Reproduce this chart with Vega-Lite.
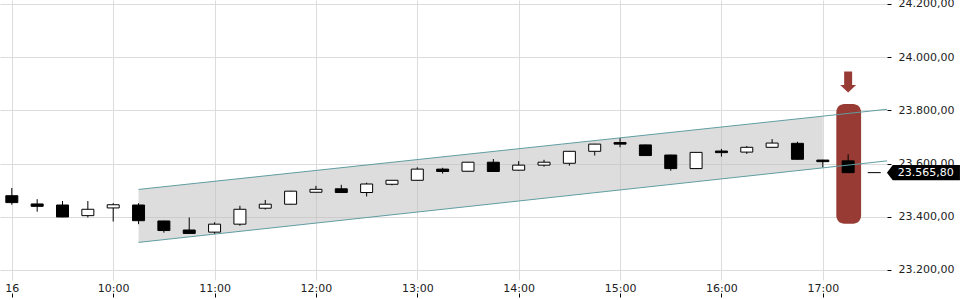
{
  "$schema": "https://vega.github.io/schema/vega-lite/v6.json",
  "width": 887,
  "height": 280,
  "autosize": "none",
  "padding": {"left": 0, "top": 0, "right": 73, "bottom": 20},
  "background": "white",
  "config": {
    "font": "DejaVu Sans",
    "view": {"stroke": null},
    "axis": {
      "title": null,
      "domain": false,
      "grid": true,
      "gridColor": "#dcdcdc",
      "gridWidth": 1,
      "tickColor": "#000000",
      "tickSize": 4,
      "labelFont": "DejaVu Sans",
      "labelFontSize": 11,
      "labelColor": "#222222"
    }
  },
  "datasets": {
    "candles": [
      {"t": "2025-06-16T09:00:00Z", "open": 23479, "high": 23508, "low": 23445, "close": 23453},
      {"t": "2025-06-16T09:15:00Z", "open": 23448, "high": 23466, "low": 23419, "close": 23439},
      {"t": "2025-06-16T09:30:00Z", "open": 23444, "high": 23459, "low": 23398, "close": 23399},
      {"t": "2025-06-16T09:45:00Z", "open": 23404, "high": 23459, "low": 23397, "close": 23428},
      {"t": "2025-06-16T10:00:00Z", "open": 23433, "high": 23451, "low": 23382, "close": 23445},
      {"t": "2025-06-16T10:15:00Z", "open": 23444, "high": 23451, "low": 23372, "close": 23385},
      {"t": "2025-06-16T10:30:00Z", "open": 23384, "high": 23385, "low": 23340, "close": 23348},
      {"t": "2025-06-16T10:45:00Z", "open": 23350, "high": 23397, "low": 23336, "close": 23337},
      {"t": "2025-06-16T11:00:00Z", "open": 23342, "high": 23379, "low": 23335, "close": 23372},
      {"t": "2025-06-16T11:15:00Z", "open": 23372, "high": 23441, "low": 23366, "close": 23428},
      {"t": "2025-06-16T11:30:00Z", "open": 23432, "high": 23463, "low": 23427, "close": 23447},
      {"t": "2025-06-16T11:45:00Z", "open": 23447, "high": 23497, "low": 23446, "close": 23496},
      {"t": "2025-06-16T12:00:00Z", "open": 23492, "high": 23516, "low": 23491, "close": 23503},
      {"t": "2025-06-16T12:15:00Z", "open": 23505, "high": 23520, "low": 23490, "close": 23491},
      {"t": "2025-06-16T12:30:00Z", "open": 23491, "high": 23528, "low": 23476, "close": 23523},
      {"t": "2025-06-16T12:45:00Z", "open": 23522, "high": 23538, "low": 23518, "close": 23537},
      {"t": "2025-06-16T13:00:00Z", "open": 23537, "high": 23586, "low": 23536, "close": 23579},
      {"t": "2025-06-16T13:15:00Z", "open": 23579, "high": 23584, "low": 23562, "close": 23570},
      {"t": "2025-06-16T13:30:00Z", "open": 23571, "high": 23606, "low": 23570, "close": 23605},
      {"t": "2025-06-16T13:45:00Z", "open": 23605, "high": 23617, "low": 23569, "close": 23570},
      {"t": "2025-06-16T14:00:00Z", "open": 23575, "high": 23609, "low": 23574, "close": 23594},
      {"t": "2025-06-16T14:15:00Z", "open": 23594, "high": 23614, "low": 23588, "close": 23605},
      {"t": "2025-06-16T14:30:00Z", "open": 23601, "high": 23647, "low": 23592, "close": 23646},
      {"t": "2025-06-16T14:45:00Z", "open": 23646, "high": 23674, "low": 23630, "close": 23673},
      {"t": "2025-06-16T15:00:00Z", "open": 23679, "high": 23696, "low": 23661, "close": 23673},
      {"t": "2025-06-16T15:15:00Z", "open": 23670, "high": 23671, "low": 23629, "close": 23630},
      {"t": "2025-06-16T15:30:00Z", "open": 23632, "high": 23633, "low": 23573, "close": 23581},
      {"t": "2025-06-16T15:45:00Z", "open": 23581, "high": 23643, "low": 23580, "close": 23642},
      {"t": "2025-06-16T16:00:00Z", "open": 23647, "high": 23655, "low": 23626, "close": 23641},
      {"t": "2025-06-16T16:15:00Z", "open": 23643, "high": 23666, "low": 23636, "close": 23661},
      {"t": "2025-06-16T16:30:00Z", "open": 23661, "high": 23692, "low": 23660, "close": 23677},
      {"t": "2025-06-16T16:45:00Z", "open": 23676, "high": 23682, "low": 23615, "close": 23616},
      {"t": "2025-06-16T17:00:00Z", "open": 23613, "high": 23614, "low": 23585, "close": 23607},
      {"t": "2025-06-16T17:15:00Z", "open": 23610, "high": 23635, "low": 23564, "close": 23565.8}
    ],
    "channelFill": [
      {"t": "2025-06-16T10:15:00Z", "upper": 23502.6, "lower": 23303.4},
      {"t": "2025-06-16T17:00:00Z", "upper": 23778, "lower": 23584}
    ],
    "channelLines": [
      {"t": "2025-06-16T10:15:00Z", "upper": 23502.6, "lower": 23303.4},
      {"t": "2025-06-16T17:38:00Z", "upper": 23804, "lower": 23610}
    ],
    "highlight": [
      {"t": "2025-06-16T17:08:00Z", "t2": "2025-06-16T17:22:40Z", "lo": 23374, "hi": 23824}
    ],
    "arrow": [
      {"t": "2025-06-16T17:15:00Z", "v": 23907}
    ],
    "lastDash": [
      {"t": "2025-06-16T17:26:36Z", "t2": "2025-06-16T17:34:18Z", "v": 23565.8}
    ],
    "tag": [
      {"t": "2025-06-16T17:59:34Z", "tt": "2025-06-16T17:44:24Z", "v": 23565.8, "label": "23.565,80"}
    ]
  },
  "layer": [
    {
      "data": {"name": "channelFill"},
      "mark": {"type": "area", "color": "#bbbbbb", "opacity": 0.5},
      "encoding": {
        "x": {
          "field": "t", "type": "temporal", "title": null,
          "scale": {"type": "utc", "padding": 0, "domain": [
            {"year": 2025, "month": 6, "date": 16, "hours": 8, "minutes": 53, "utc": true},
            {"year": 2025, "month": 6, "date": 16, "hours": 17, "minutes": 38, "utc": true}
          ]},
          "axis": {
            "orient": "bottom",
            "offset": 13,
            "labelPadding": -15,
            "labelFlush": false,
            "values": [
              {"year": 2025, "month": 6, "date": 16, "hours": 9, "utc": true},
              {"year": 2025, "month": 6, "date": 16, "hours": 10, "utc": true},
              {"year": 2025, "month": 6, "date": 16, "hours": 11, "utc": true},
              {"year": 2025, "month": 6, "date": 16, "hours": 12, "utc": true},
              {"year": 2025, "month": 6, "date": 16, "hours": 13, "utc": true},
              {"year": 2025, "month": 6, "date": 16, "hours": 14, "utc": true},
              {"year": 2025, "month": 6, "date": 16, "hours": 15, "utc": true},
              {"year": 2025, "month": 6, "date": 16, "hours": 16, "utc": true},
              {"year": 2025, "month": 6, "date": 16, "hours": 17, "utc": true}
            ],
            "labelExpr": "utcFormat(datum.value, '%H') == '09' ? '16' : utcFormat(datum.value, '%H:%M')"
          }
        },
        "y": {
          "field": "upper", "type": "quantitative", "title": null,
          "scale": {"domain": [23162, 24215], "nice": false, "zero": false},
          "axis": {
            "orient": "right",
            "labelPadding": 7,
            "zindex": 0,
            "values": [23200, 23400, 23600, 23800, 24000, 24200],
            "labelExpr": "replace(replace(replace(format(datum.value, ',.2f'), ',', '#'), '.', ','), '#', '.')"
          }
        },
        "y2": {"field": "lower"}
      }
    },
    {
      "data": {"name": "highlight"},
      "mark": {"type": "rect", "color": "#993b35", "cornerRadius": 8},
      "encoding": {
        "x": {"field": "t", "type": "temporal", "title": null},
        "x2": {"field": "t2"},
        "y": {"field": "lo", "type": "quantitative", "title": null},
        "y2": {"field": "hi"}
      }
    },
    {
      "data": {"name": "arrow"},
      "mark": {"type": "point", "filled": true, "color": "#993b35", "opacity": 1, "size": 441,
        "shape": "M-0.38,-1L0.38,-1L0.38,0.29L0.76,0.29L0,1L-0.76,0.29L-0.38,0.29Z"},
      "encoding": {
        "x": {"field": "t", "type": "temporal", "title": null},
        "y": {"field": "v", "type": "quantitative", "title": null}
      }
    },
    {
      "data": {"name": "candles"},
      "mark": {"type": "rule", "color": "#000000", "strokeWidth": 1},
      "encoding": {
        "x": {"field": "t", "type": "temporal", "title": null},
        "y": {"field": "low", "type": "quantitative", "title": null},
        "y2": {"field": "high"}
      }
    },
    {
      "data": {"name": "candles"},
      "mark": {"type": "bar", "size": 12, "stroke": "#000000", "strokeWidth": 1},
      "encoding": {
        "x": {"field": "t", "type": "temporal", "title": null},
        "y": {"field": "open", "type": "quantitative", "title": null},
        "y2": {"field": "close"},
        "fill": {"condition": {"test": "datum.close >= datum.open", "value": "#ffffff"}, "value": "#000000"}
      }
    },
    {
      "data": {"name": "channelLines"},
      "mark": {"type": "line", "color": "#5f9ea0", "strokeWidth": 1},
      "encoding": {
        "x": {"field": "t", "type": "temporal", "title": null},
        "y": {"field": "upper", "type": "quantitative", "title": null}
      }
    },
    {
      "data": {"name": "channelLines"},
      "mark": {"type": "line", "color": "#5f9ea0", "strokeWidth": 1},
      "encoding": {
        "x": {"field": "t", "type": "temporal", "title": null},
        "y": {"field": "lower", "type": "quantitative", "title": null}
      }
    },
    {
      "data": {"name": "lastDash"},
      "mark": {"type": "rule", "color": "#000000", "strokeWidth": 1},
      "encoding": {
        "x": {"field": "t", "type": "temporal", "title": null},
        "x2": {"field": "t2"},
        "y": {"field": "v", "type": "quantitative", "title": null}
      }
    },
    {
      "data": {"name": "tag"},
      "mark": {"type": "point", "filled": true, "color": "#000000", "opacity": 1, "size": 5329,
        "shape": "M-1,0L-0.84,-0.21L1,-0.21L1,0.21L-0.84,0.21Z"},
      "encoding": {
        "x": {"field": "t", "type": "temporal", "title": null},
        "y": {"field": "v", "type": "quantitative", "title": null}
      }
    },
    {
      "data": {"name": "tag"},
      "mark": {"type": "text", "color": "#ffffff", "font": "DejaVu Sans", "fontSize": 11, "align": "left", "baseline": "middle"},
      "encoding": {
        "x": {"field": "tt", "type": "temporal", "title": null},
        "y": {"field": "v", "type": "quantitative", "title": null},
        "text": {"field": "label"}
      }
    }
  ]
}
